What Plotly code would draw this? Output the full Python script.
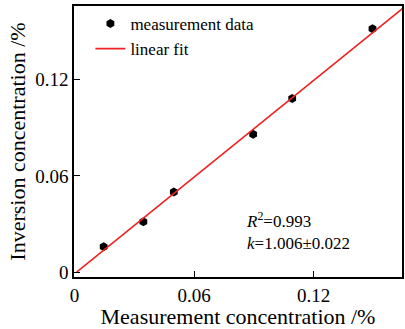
import plotly.graph_objects as go

meas_x = [0.0146, 0.0345, 0.0498, 0.0896, 0.1092, 0.1495]
meas_y = [0.0158, 0.0314, 0.0499, 0.0860, 0.1083, 0.1519]
fit_x = [0.001, 0.1645]
fit_y = [0.0, 0.1645]
x_ticks = [0, 0.06, 0.12]
x_tick_text = ["0", "0.06", "0.12"]
y_ticks = [0, 0.06, 0.12]
y_tick_text = ["0", "0.06", "0.12"]

FONT = "Liberation Serif"

fig = go.Figure()
fig.add_trace(go.Scatter(x=meas_x, y=meas_y, mode="markers", name="measurement data",
                         marker=dict(color="black", size=9, symbol="hexagon")))
fig.add_trace(go.Scatter(x=fit_x, y=fit_y, mode="lines", name="linear fit",
                         line=dict(color="#ee2222", width=1.6)))

fig.add_annotation(x=0.0848, y=0.0255, xref="x", yref="y", xanchor="left", yanchor="middle",
                   text="<i>R</i><sup>2</sup>=0.993<br><i>k</i>=1.006±0.022",
                   showarrow=False, align="left",
                   font=dict(family=FONT, size=17, color="black"))

axis_common = dict(showline=True, linecolor="black", linewidth=1.5, mirror=True,
                   ticks="inside", ticklen=6, tickwidth=1.2, tickcolor="black",
                   showgrid=False, zeroline=False,
                   tickfont=dict(family=FONT, size=19, color="black"))

fig.update_layout(
    width=405, height=329,
    margin=dict(l=74, r=1, t=6, b=52),
    paper_bgcolor="white", plot_bgcolor="white",
    showlegend=True,
    legend=dict(x=0.05, y=1.0, xanchor="left", yanchor="top",
                font=dict(family=FONT, size=17, color="black"),
                bgcolor="rgba(0,0,0,0)", tracegroupgap=0, itemwidth=30),
    xaxis=dict(range=[-0.0003, 0.1643], tickvals=x_ticks, ticktext=x_tick_text,
               title=dict(text="Measurement concentration /%", standoff=3,
                          font=dict(family=FONT, size=22, color="black")),
               **axis_common),
    yaxis=dict(range=[-0.0031, 0.1661], tickvals=y_ticks, ticktext=y_tick_text,
               title=dict(text="Inversion concentration /%", standoff=4,
                          font=dict(family=FONT, size=22, color="black")),
               **axis_common),
)

fig.write_html("out.html")
